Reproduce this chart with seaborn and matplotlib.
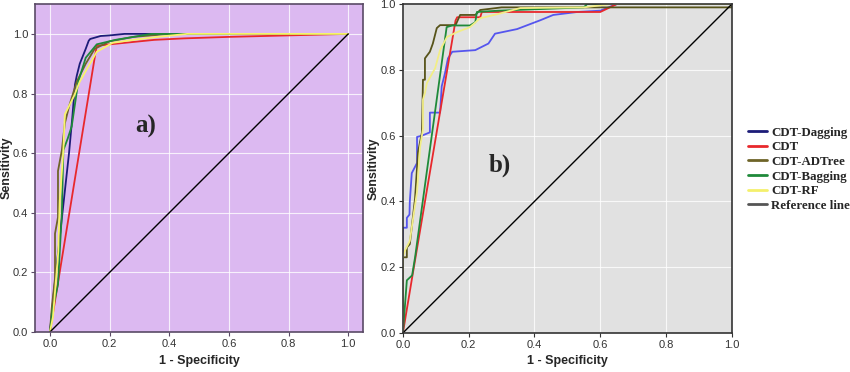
"""ROC curves of the CDT ensemble models on two datasets."""

import matplotlib
matplotlib.use("Agg")
import matplotlib.pyplot as plt
from matplotlib.lines import Line2D
import pandas as pd
import seaborn as sns

MODELS = ["CDT-Dagging", "CDT", "CDT-ADTree", "CDT-Bagging", "CDT-RF"]

# panel a) curves (1 - specificity, sensitivity)
a_dagging_x = [0, 0.02, 0.064, 0.075, 0.084, 0.09, 0.1, 0.12, 0.13, 0.135, 0.17, 0.2, 0.25, 0.46, 1.0]
a_dagging_y = [0, 0.2, 0.6, 0.72, 0.83, 0.86, 0.9, 0.95, 0.977, 0.983, 0.993, 0.995, 1.0, 1.0, 1.0]
a_cdt_x = [0, 0.15, 0.157, 0.2, 0.3, 0.35, 0.45, 0.6, 1.0]
a_cdt_y = [0, 0.92, 0.96, 0.965, 0.975, 0.98, 0.985, 0.99, 1.0]
a_adtree_x = [0, 0.006, 0.017, 0.017, 0.027, 0.027, 0.04, 0.05, 0.065, 0.09, 0.12, 0.15, 0.2, 0.28, 0.4, 1.0]
a_adtree_y = [0, 0.08, 0.18, 0.33, 0.385, 0.54, 0.61, 0.70, 0.76, 0.84, 0.9, 0.95, 0.975, 0.99, 1.0, 1.0]
a_bagging_x = [0, 0.01, 0.027, 0.04, 0.045, 0.06, 0.073, 0.095, 0.12, 0.157, 0.22, 0.34, 0.62]
a_bagging_y = [0, 0.08, 0.16, 0.4, 0.61, 0.65, 0.69, 0.84, 0.92, 0.965, 0.98, 1.0, 1.0]
a_rf_x = [0, 0.01, 0.028, 0.033, 0.045, 0.05, 0.06, 0.08, 0.1, 0.157, 0.21, 0.28, 0.36, 0.46, 1.0]
a_rf_y = [0, 0.05, 0.27, 0.44, 0.61, 0.73, 0.75, 0.79, 0.84, 0.94, 0.97, 0.98, 0.99, 1.0, 1.0]

# panel b) curves
b_dagging_x = [0, 0, 0.012, 0.012, 0.02, 0.021, 0.027, 0.043, 0.043, 0.058, 0.082, 0.082, 0.113,
               0.118, 0.128, 0.137, 0.15, 0.22, 0.26, 0.28, 0.347, 0.418, 0.457, 0.53, 0.6, 0.65, 1.0]
b_dagging_y = [0, 0.32, 0.32, 0.35, 0.36, 0.40, 0.486, 0.517, 0.596, 0.6, 0.61, 0.67, 0.67,
               0.75, 0.79, 0.835, 0.855, 0.86, 0.88, 0.91, 0.924, 0.951, 0.967, 0.976, 0.98, 1.0, 1.0]
b_cdt_x = [0, 0.03, 0.16, 0.165, 0.235, 0.24, 0.6, 0.65, 1.0]
b_cdt_y = [0, 0.18, 0.95, 0.96, 0.96, 0.976, 0.976, 1.0, 1.0]
b_adtree_x = [0, 0, 0.012, 0.012, 0.021, 0.037, 0.046, 0.058, 0.061, 0.067, 0.067, 0.082, 0.091,
              0.103, 0.113, 0.16, 0.174, 0.22, 0.235, 0.3, 1.0, 1.0]
b_adtree_y = [0, 0.23, 0.23, 0.26, 0.27, 0.41, 0.55, 0.61, 0.77, 0.77, 0.835, 0.855, 0.88,
              0.927, 0.936, 0.936, 0.967, 0.967, 0.982, 0.99, 0.99, 1.0]
b_bagging_x = [0, 0.012, 0.028, 0.037, 0.133, 0.15, 0.204, 0.22, 0.225, 0.29, 0.55, 0.56, 1.0]
b_bagging_y = [0, 0.16, 0.175, 0.23, 0.93, 0.935, 0.935, 0.945, 0.976, 0.98, 0.99, 1.0, 1.0]
b_rf_x = [0, 0, 0.006, 0.021, 0.043, 0.052, 0.061, 0.061, 0.067, 0.073, 0.098, 0.113, 0.134,
          0.165, 0.204, 0.235, 0.29, 0.357, 0.55, 0.63, 1.0]
b_rf_y = [0, 0.23, 0.25, 0.28, 0.43, 0.565, 0.62, 0.71, 0.73, 0.76, 0.805, 0.86, 0.9,
          0.915, 0.93, 0.957, 0.97, 0.988, 0.99, 1.0, 1.0]

ref_x = [0, 1]
ref_y = [0, 1]

legend_colors = {"CDT-Dagging": "#1c1c78", "CDT": "#e8282c", "CDT-ADTree": "#6e6428",
                 "CDT-Bagging": "#1f8a3a", "CDT-RF": "#f4f06c"}
colors_a = dict(legend_colors, **{"CDT-RF": "#f8f46a"})
colors_b = dict(legend_colors, **{"CDT-Dagging": "#5555ee", "CDT-ADTree": "#57531a", "CDT-RF": "#f2ee86"})


def _frame(curves: list) -> pd.DataFrame:
    parts = [pd.DataFrame({"fpr": x, "tpr": y, "model": m}) for m, (x, y) in zip(MODELS, curves)]
    return pd.concat(parts, ignore_index=True)


def _panel(ax, df, palette, bg, spine, label, label_xy, xlim, ylim, ylabel_x):
    ax.set_facecolor(bg)
    ax.grid(True, color="white", linewidth=0.8, alpha=0.8)
    ax.set_axisbelow(True)
    for m in MODELS:
        sns.lineplot(data=df[df["model"] == m], x="fpr", y="tpr", color=palette[m],
                     sort=False, estimator=None, linewidth=1.3, ax=ax, legend=False)
    sns.lineplot(x=ref_x, y=ref_y, color="black", linewidth=1.0, ax=ax, legend=False)
    ax.set_xlim(*xlim)
    ax.set_ylim(*ylim)
    ax.set_xticks([0, 0.2, 0.4, 0.6, 0.8, 1.0])
    ax.set_yticks([0, 0.2, 0.4, 0.6, 0.8, 1.0])
    ax.set_xticklabels(["0.0", "0.2", "0.4", "0.6", "0.8", "1.0"])
    ax.set_yticklabels(["0.0", "0.2", "0.4", "0.6", "0.8", "1.0"])
    ax.tick_params(direction="out", length=3, width=0.8, color=spine, labelsize=8,
                   labelcolor="#333333", pad=2)
    for s in ax.spines.values():
        s.set_color(spine)
        s.set_linewidth(1.2)
    ax.set_xlabel("1 - Specificity", fontsize=9, fontweight="bold", labelpad=4)
    ax.set_ylabel("Sensitivity", fontsize=9, fontweight="bold")
    ax.yaxis.set_label_coords(ylabel_x, 0.5)
    ax.text(label_xy[0], label_xy[1], label, fontsize=18, fontweight="bold",
            family="Liberation Serif", ha="center", va="center")


sns.set_style("ticks")
plt.rcParams["font.family"] = ["Liberation Sans", "DejaVu Sans"]

fig = plt.figure(figsize=(8.5, 3.72), dpi=100)
ax_a = fig.add_axes([0.0412, 0.1075, 0.386, 0.8815])
ax_b = fig.add_axes([0.474, 0.105, 0.387, 0.884])

df_a = _frame([(a_dagging_x, a_dagging_y), (a_cdt_x, a_cdt_y), (a_adtree_x, a_adtree_y),
               (a_bagging_x, a_bagging_y), (a_rf_x, a_rf_y)])
df_b = _frame([(b_dagging_x, b_dagging_y), (b_cdt_x, b_cdt_y), (b_adtree_x, b_adtree_y),
               (b_bagging_x, b_bagging_y), (b_rf_x, b_rf_y)])

_panel(ax_a, df_a, colors_a, "#dcb9f1", "#5a4a66", "a)", (0.32, 0.69), (-0.05, 1.05), (0, 1.1), -0.067)
_panel(ax_b, df_b, colors_b, "#e1e1e1", "#333333", "b)", (0.296, 0.51), (0, 1.0), (0, 1.0), -0.07)

handles = [Line2D([], [], color=legend_colors[m], linewidth=2) for m in MODELS]
handles.append(Line2D([], [], color="#555555", linewidth=2))
fig.legend(handles, MODELS + ["Reference line"], loc="center left", bbox_to_anchor=(0.866, 0.545),
           frameon=False, handlelength=1.5, handletextpad=0.3, labelspacing=0.2,
           prop={"family": "Liberation Serif", "weight": "bold", "size": 9.3})

fig.savefig("out.png", dpi=100)
